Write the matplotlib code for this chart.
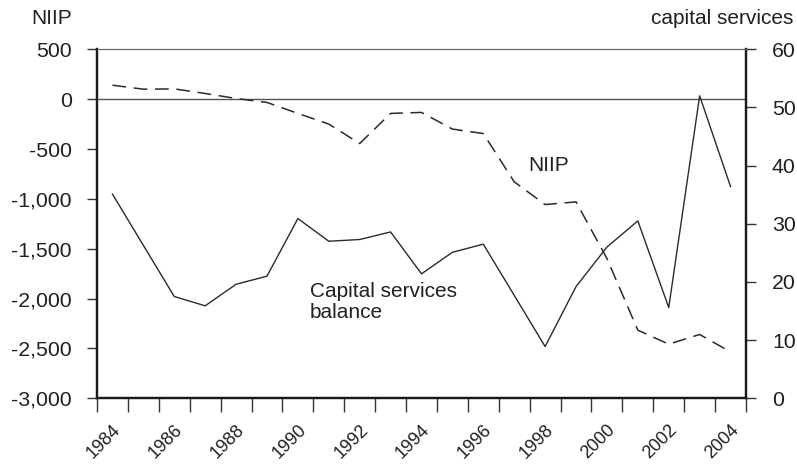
import matplotlib
matplotlib.use("Agg")
import matplotlib.pyplot as plt
import matplotlib.transforms as mtransforms
from matplotlib.ticker import FuncFormatter, FixedLocator
import numpy as np

years = list(range(1984, 2005))
niip = [140, 100, 103, 57, 7, -33, -143, -250, -445, -143, -133, -300, -345,
        -829, -1057, -1030, -1598, -2317, -2457, -2360, -2535]
capital_services = [35.1, 26.3, 17.5, 15.9, 19.6, 21.0, 30.9, 27.0, 27.3, 28.6,
                    21.4, 25.1, 26.5, 17.7, 8.9, 19.2, 26.0, 30.5, 15.6, 52.0, 36.4]
left_ticks = [-3000, -2500, -2000, -1500, -1000, -500, 0, 500]
right_ticks = [0, 10, 20, 30, 40, 50, 60]
label_years = years[::2]

plt.rcParams['font.family'] = ['Liberation Sans', 'DejaVu Sans']
TXT = '#231f20'
LINE = '#2b2b2b'

W, H = 797, 465
fig = plt.figure(figsize=(W / 100, H / 100), dpi=100)
ax = fig.add_axes([97 / W, (H - 398.3) / H, (746 - 97) / W, (398.3 - 49.3) / H])
ax2 = ax.twinx()

x = np.arange(len(years))
ax.plot(x, niip, color=LINE, lw=1.1, dashes=(9, 5))
ax2.plot(x, capital_services, color=LINE, lw=1.0)

ax.axhline(0, color='#555555', lw=1.0, zorder=1)

ax.set_xlim(-0.5, len(years) - 0.5)
ax.set_ylim(-3000, 500)
ax2.set_ylim(0, 60)

# x ticks: labels at centers (no marks), marks at boundaries
label_pos = [years.index(y) for y in label_years]
ax.set_xticks(label_pos)
ax.set_xticklabels([str(y) for y in label_years], rotation=45, ha='center',
                   va='center', rotation_mode='anchor', fontsize=13, color=TXT)
ax.tick_params(axis='x', which='major', length=0, pad=31)
ax.xaxis.set_minor_locator(FixedLocator(np.arange(-0.5, len(years), 1.0)))
ax.tick_params(axis='x', which='minor', length=10, width=1.0, color='#333333')
offset = mtransforms.ScaledTranslation(-8.4 / 100, 0, fig.dpi_scale_trans)
for lab in ax.get_xticklabels():
    lab.set_transform(lab.get_transform() + offset)

ax.set_yticks(left_ticks)
ax.yaxis.set_major_formatter(FuncFormatter(lambda v, p: f"{int(v):,}"))
ax.tick_params(axis='y', length=7.2, width=1.0, pad=11.0, labelsize=15.3,
               labelcolor=TXT, color='#333333')
ax2.set_yticks(right_ticks)
ax2.tick_params(axis='y', length=7.2, width=1.0, pad=11.5, labelsize=15.3,
                labelcolor=TXT, color='#333333')

for a in (ax, ax2):
    a.spines['top'].set_color('#666666')
    a.spines['top'].set_linewidth(0.8)
    a.spines['left'].set_linewidth(1.6)
    a.spines['right'].set_linewidth(1.6)
    a.spines['bottom'].set_linewidth(1.6)
    for s in ('left', 'right', 'bottom'):
        a.spines[s].set_color('#1a1a1a')

fig.text(52 / W, 1 - 24 / H, 'NIIP', ha='center', va='baseline', fontsize=15, color=TXT)
fig.text(793 / W, 1 - 24 / H, 'capital services', ha='right', va='baseline',
         fontsize=15, color=TXT)

ax.text((549 - 97) / (746 - 97), (398.3 - 165) / (398.3 - 49.3), 'NIIP',
        transform=ax.transAxes, ha='center', va='center', fontsize=15, color=TXT)
ax.text((310 - 97) / (746 - 97), (398.3 - 302) / (398.3 - 49.3),
        'Capital services\nbalance', transform=ax.transAxes, ha='left',
        va='center', fontsize=15, color=TXT, linespacing=1.1)

fig.savefig('out.png', dpi=100)
